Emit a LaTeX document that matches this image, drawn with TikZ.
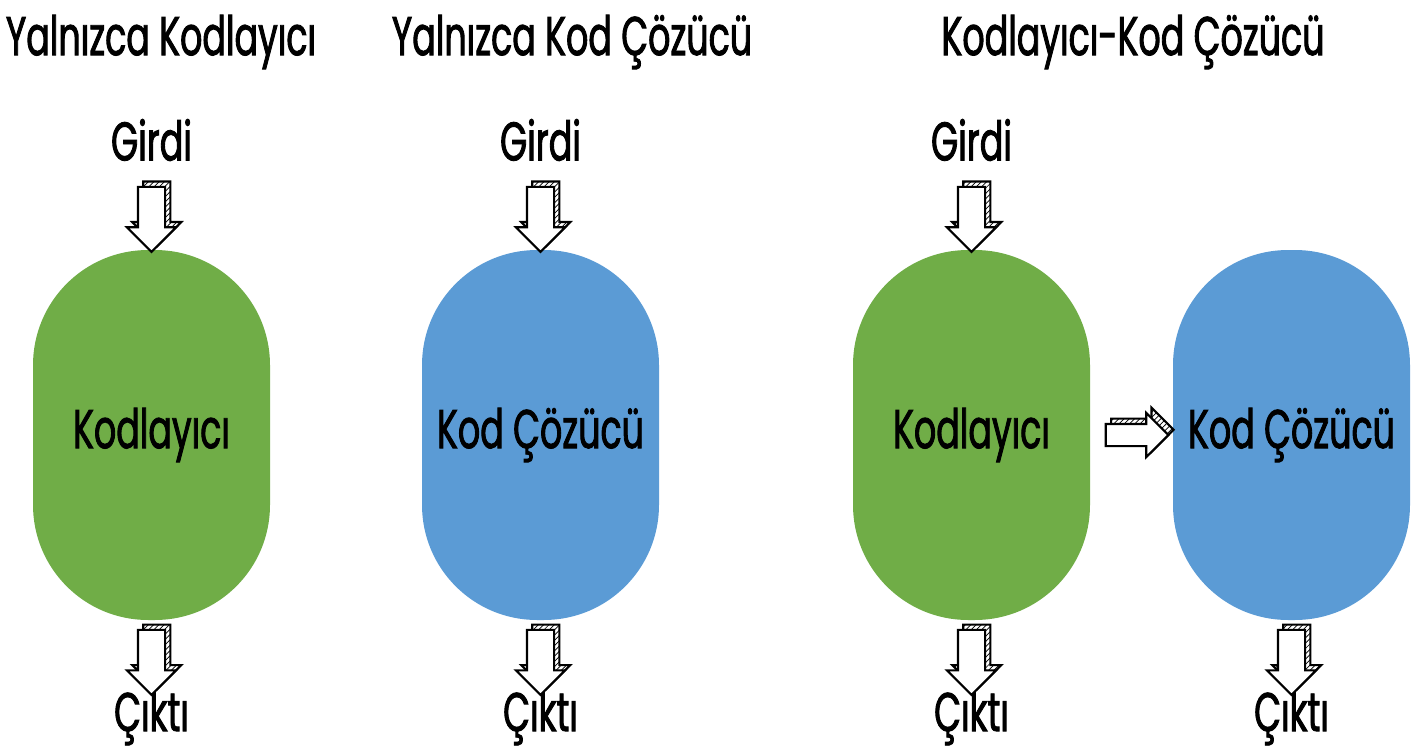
\documentclass[tikz,border=0pt]{standalone}
\usepackage{fontspec}
\setmainfont[FakeStretch=0.64,FakeBold=1.6]{Poppins}
\usetikzlibrary{shapes.arrows,shadows,patterns,calc}
\definecolor{encgreen}{HTML}{70AD47}
\definecolor{decblue}{HTML}{5B9BD5}

\begin{document}
\begin{tikzpicture}[font=\fontsize{31}{36}\selectfont]
  %----- styles
  \tikzset{
    caps/.style ={rounded corners=2.3cm,minimum width=4.74cm,minimum height=7.4cm,align=center},
    enc/.style  ={caps,fill=encgreen},
    dec/.style  ={caps,fill=decblue},
    blk/.style  ={single arrow,draw,line width=1.2pt,fill=white,minimum height=1.3cm,
                  single arrow head extend=0.22cm,inner sep=0.25cm,
                  copy shadow={shadow xshift=3pt,shadow yshift=3pt,draw,line width=1.2pt,pattern=north east lines}},
    down/.style ={blk,shape border rotate=270},
    right/.style={blk,shape border rotate=0,minimum height=1.25cm,inner sep=0.2cm}
  }

  %==================== COLUMN LAYOUT ====================
  \def\xA{3.03}   % encoder only
  \def\xB{10.81}  % decoder only
  \def\xC{19.43}  % encoder of the pair
  \def\xD{25.83}  % decoder of the pair

  \useasboundingbox (0,0) rectangle (28.48,-15.04);

  %----- titles
  \node (t1) at (3.22,-0.84)  {Yalnızca Kodlayıcı};
  \node (t2) at (11.44,-0.84) {Yalnızca Kod Çözücü};
  \node (t3) at (22.66,-0.84) {Kodlayıcı-Kod Çözücü};

  %----- nodes
  % encoder only
  \node (in1) at (\xA,-2.8) {Girdi};
  \node[enc] (m1) at (\xA,-8.7) {Kodlayıcı};
  \node (out1) at (\xA,-14.36) {Çıktı};

  % decoder only
  \node (in2) at (\xB,-2.8) {Girdi};
  \node[dec] (m2) at (\xB,-8.7) {Kod Çözücü};
  \node (out2) at (\xB,-14.36) {Çıktı};

  % encoder-decoder
  \node (in3) at (\xC,-2.8) {Girdi};
  \node[enc] (m3) at (\xC,-8.7) {Kodlayıcı};
  \node (out3) at (\xC,-14.36) {Çıktı};
  \node[dec] (m4) at (\xD,-8.7) {Kod Çözücü};
  \node (out4) at (\xD,-14.36) {Çıktı};

  %----- connections
  \node[down] (a1) at ($(in1.south)!0.55!(m1.north)$) {};
  \node[down] (b1) at ($(m1.south)!0.55!(out1.north)$) {};
  \node[down] (a2) at ($(in2.south)!0.55!(m2.north)$) {};
  \node[down] (b2) at ($(m2.south)!0.55!(out2.north)$) {};
  \node[down] (a3) at ($(in3.south)!0.55!(m3.north)$) {};
  \node[down] (b3) at ($(m3.south)!0.55!(out3.north)$) {};
  \node[down] (b4) at ($(m4.south)!0.55!(out4.north)$) {};
  \node[right] (c3) at ($(m3.east)!0.5!(m4.west)$) {};

\end{tikzpicture}
\end{document}
